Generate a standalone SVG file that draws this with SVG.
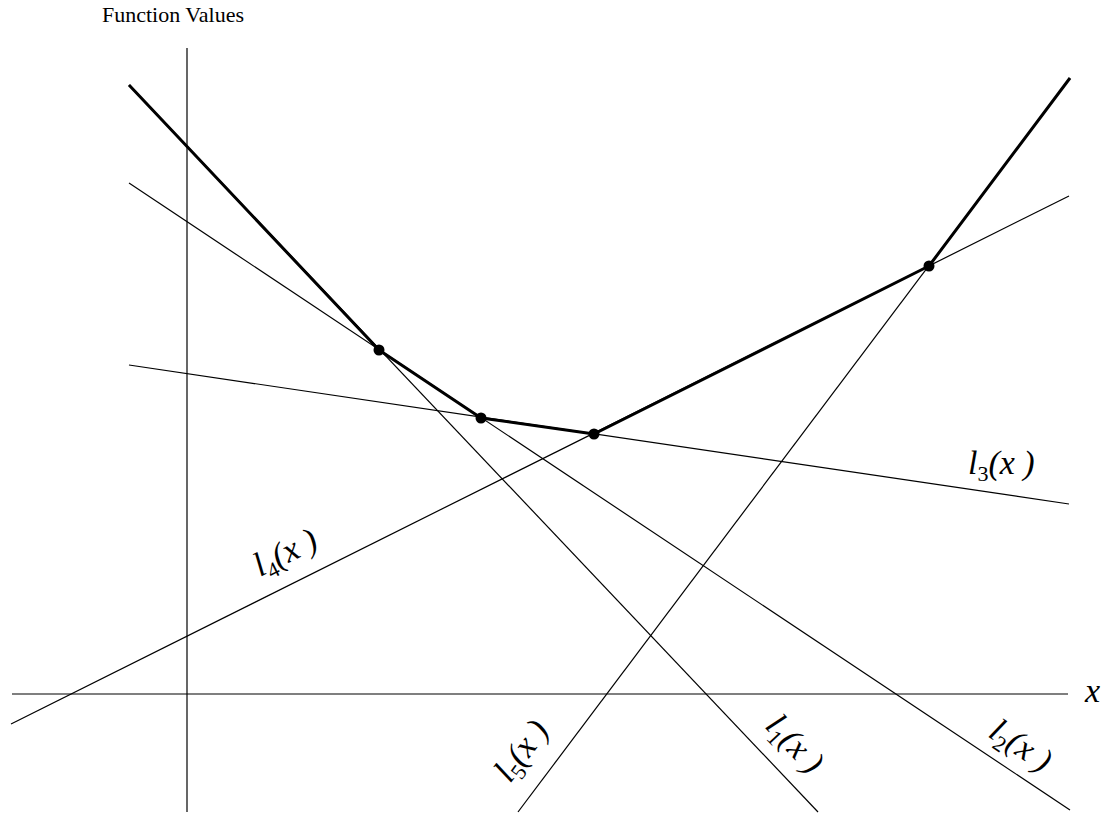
<svg xmlns="http://www.w3.org/2000/svg" width="1102" height="814" viewBox="0 0 1102 814">
<style>
.thin{stroke:#000;stroke-width:1.2;fill:none}
.thick{stroke:#000;stroke-width:3;fill:none;stroke-linejoin:round}
.lbl{font-family:"Liberation Serif","Times New Roman","DejaVu Serif",serif;font-style:italic;font-size:34px;fill:#000}
.sub{font-size:22px;font-style:normal}
.title{font-family:"Liberation Serif","Times New Roman","DejaVu Serif",serif;font-size:22px;fill:#000}
</style>
<rect width="1102" height="814" fill="#fff"/>
<g id="axes">
<line class="thin" x1="187" y1="48" x2="187" y2="812"/>
<line class="thin" x1="12" y1="694" x2="1068" y2="694"/>
<text class="title" x="102" y="22">Function Values</text>
<text class="lbl" x="1085" y="702">x</text>
</g>
<g id="connectors">
<line id="l1" class="thin" x1="129" y1="85" x2="818" y2="812"/>
<line id="l2" class="thin" x1="129" y1="183" x2="1070" y2="810"/>
<line id="l3" class="thin" x1="129" y1="365" x2="1069" y2="504"/>
<line id="l4" class="thin" x1="11" y1="724" x2="1069" y2="196"/>
<line id="l5" class="thin" x1="518" y1="812" x2="1070" y2="78"/>
<polyline id="envelope" class="thick" points="129,85 379,350 481,418 594,434 929,266 1070,78"/>
</g>
<g id="points">
<circle cx="379" cy="350" r="5.5"/>
<circle cx="481" cy="418" r="5.5"/>
<circle cx="594" cy="434" r="5.5"/>
<circle cx="929" cy="266" r="5.5"/>
</g>
<g id="labels">
<text class="lbl" x="968" y="474">l<tspan class="sub" dy="7">3</tspan><tspan dy="-7">(x )</tspan></text>
<text class="lbl" transform="translate(260,577) rotate(-26.3)">l<tspan class="sub" dy="7">4</tspan><tspan dy="-7">(x )</tspan></text>
<text class="lbl" transform="translate(510,784) rotate(-53)">l<tspan class="sub" dy="7">5</tspan><tspan dy="-7">(x )</tspan></text>
<text class="lbl" transform="translate(764,727) rotate(46.7)">l<tspan class="sub" dy="7">1</tspan><tspan dy="-7">(x )</tspan></text>
<text class="lbl" transform="translate(987,736) rotate(33.6)">l<tspan class="sub" dy="7">2</tspan><tspan dy="-7">(x )</tspan></text>
</g>
</svg>
